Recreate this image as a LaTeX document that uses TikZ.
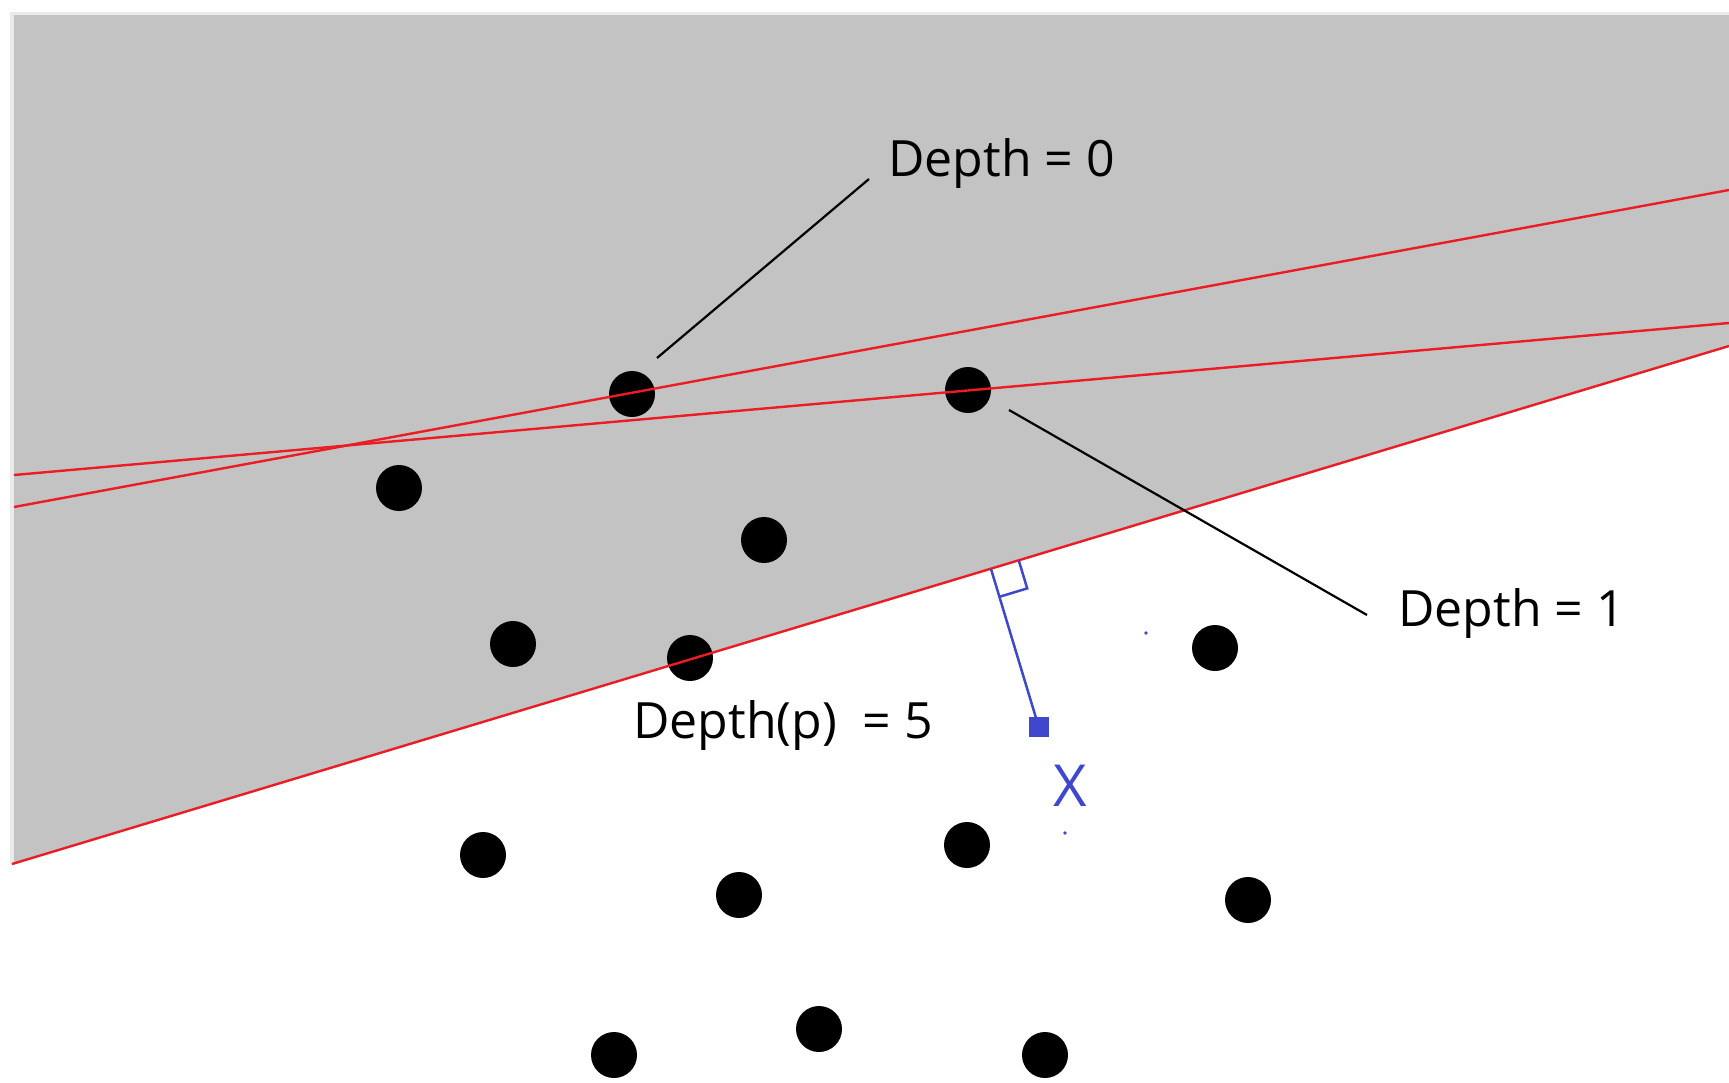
\documentclass[tikz,border=0pt]{standalone}
\usepackage{fontspec}
\setmainfont{Open Sans}
\definecolor{halfgray}{RGB}{195,195,195}
\definecolor{rimgray}{RGB}{234,234,234}
\definecolor{pred}{RGB}{237,28,36}
\definecolor{pblue}{RGB}{63,72,204}
\begin{document}
\begin{tikzpicture}[x=1pt,y=-1pt,
  dot/.style={circle,fill=black,minimum size=46pt,inner sep=0pt},
  redline/.style={draw=pred,line width=2.4pt},
  leader/.style={draw=black,line width=2.2pt},
  lbl/.style={anchor=base west,inner sep=0pt,font=\fontsize{50}{60}\selectfont},
  blueline/.style={draw=pblue,line width=2.5pt}]
\fill[white] (0,0) rectangle (1729,1082);
\useasboundingbox (0,0) rectangle (1729,1082);
% half-plane
\fill[rimgray] (10,12) -- (1729,12) -- (1729,346) -- (10,865) -- cycle;
\fill[halfgray] (14,15) -- (1729,15) -- (1729,346) -- (14,863) -- cycle;
% points
\node[dot] (d1) at (632,394) {};
\node[dot] (d2) at (968,390) {};
\node[dot] (d3) at (399,488) {};
\node[dot] (d4) at (764,540) {};
\node[dot] (d5) at (513,644) {};
\node[dot] (d6) at (690,658) {};
\node[dot] (d7) at (1215,648) {};
\node[dot] (d8) at (483,855) {};
\node[dot] (d9) at (967,845) {};
\node[dot] (d10) at (739,895) {};
\node[dot] (d11) at (1248,900) {};
\node[dot] (d12) at (614,1055) {};
\node[dot] (d13) at (819,1029) {};
\node[dot] (d14) at (1045,1055) {};
% red lines
\coordinate (a1) at (14,475); \coordinate (a2) at (1729,323);
\coordinate (b1) at (14,507); \coordinate (b2) at (1729,190);
\coordinate (c1) at (12,864); \coordinate (c2) at (1729,346);
\draw[redline] (a1) -- (a2);
\draw[redline] (b1) -- (b2);
\draw[redline] (c1) -- (c2);
% labels
\node[lbl] (l0) at (888,176) {Depth = 0};
\node[lbl] (l1) at (1398,626) {Depth = 1};
\node[lbl] (lp) at (633,738) {Depth(p)\ \ = 5};
\coordinate (k0a) at (657,358); \coordinate (k0b) at (869,179);
\coordinate (k1a) at (1009,410); \coordinate (k1b) at (1367,615);
\draw[leader] (k0a) -- (k0b);
\draw[leader] (k1a) -- (k1b);
% perpendicular to p
\coordinate (F) at (991,569);
\coordinate (P) at (1038.7,726.9);
\coordinate (r1) at (999.4,596.8);
\coordinate (r2) at (1027.2,588.4);
\coordinate (r3) at (1018.8,560.6);
\draw[blueline] (F) -- (P);
\draw[blueline,line join=miter] (r1) -- (r2) -- (r3);
\node[fill=pblue,minimum size=20pt,inner sep=0pt] (pm) at (P) {};
\node[text=pblue,inner sep=0pt,font=\fontsize{58}{64}\selectfont] (xl) at (1070,786) {X};
\fill[pblue] (1146,633) circle (1.8pt);
\fill[pblue] (1065,833) circle (1.8pt);
\end{tikzpicture}
\end{document}
